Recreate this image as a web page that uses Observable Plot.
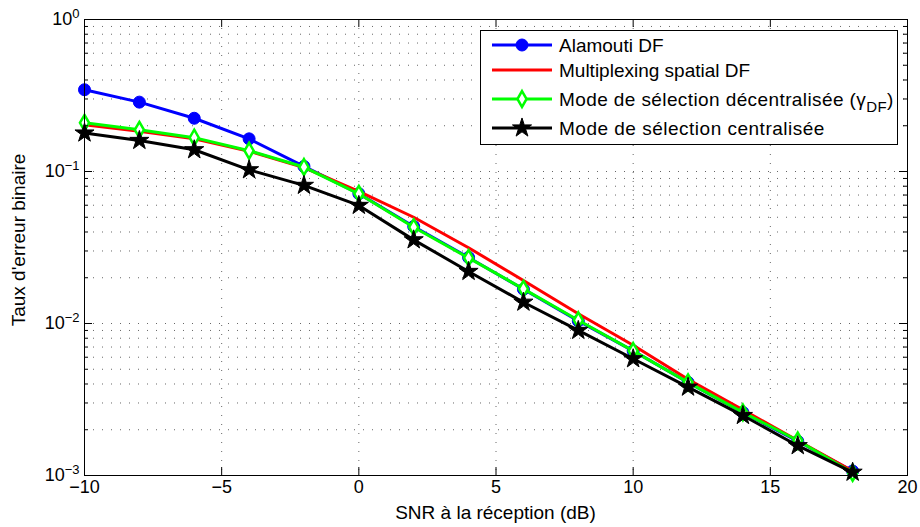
<!DOCTYPE html>
<html>
<head>
<meta charset="utf-8">
<script src="https://cdn.jsdelivr.net/npm/d3@7"></script>
<script src="https://cdn.jsdelivr.net/npm/@observablehq/plot@0.6"></script>
<style>
  body { margin: 0; background: #fff; }
  #chart svg { display: block; }
</style>
</head>
<body>
<div id="chart"></div>
<script>
// ---- Data ----
const snr = [-10, -8, -6, -4, -2, 0, 2, 4, 6, 8, 10, 12, 14, 16, 18];
const alamoutiDF   = [0.345, 0.286, 0.224, 0.164, 0.108, 0.0715, 0.0435, 0.0272, 0.0168, 0.0104, 0.0066, 0.0041, 0.0026, 0.00168, 0.00107];
const multiplexDF  = [0.203, 0.184, 0.164, 0.136, 0.106, 0.074, 0.050, 0.0315, 0.0192, 0.0116, 0.0072, 0.0043, 0.0027, 0.0017, 0.00107];
const decentralise = [0.209, 0.188, 0.167, 0.137, 0.107, 0.0713, 0.043, 0.027, 0.0169, 0.0105, 0.0066, 0.0041, 0.0026, 0.0017, 0.00104];
const centralise   = [0.179, 0.160, 0.139, 0.1026, 0.081, 0.0598, 0.0355, 0.022, 0.0138, 0.0090, 0.00586, 0.00381, 0.00248, 0.00157, 0.00105];

const seriesNames = ["Alamouti DF", "Multiplexing spatial DF", "Mode de sélection décentralisée (γDF)", "Mode de sélection centralisée"];

const xTicks = [-10, -5, 0, 5, 10, 15, 20];
const xGrid = [-5, 0, 5, 10, 15];
const yMajor = [0.001, 0.01, 0.1, 1];
const yMinor = [0.002, 0.003, 0.004, 0.005, 0.006, 0.007, 0.008, 0.009,
                0.02, 0.03, 0.04, 0.05, 0.06, 0.07, 0.08, 0.09,
                0.2, 0.3, 0.4, 0.5, 0.6, 0.7, 0.8, 0.9];
const yGrid = [0.01, 0.1].concat(yMinor);

// ---- Layout ----
const W = 920, H = 527, mL = 84, mR = 13, mT = 19, mB = 52;
const innerW = W - mL - mR, innerH = H - mT - mB;
const FONT = "'Liberation Sans', Arial, Helvetica, sans-serif";

const series = [
  {name: seriesNames[0], values: alamoutiDF,   color: "#0000ff", symbol: "circle",  r: 6,   fill: "#0000ff", sw: 1},
  {name: seriesNames[1], values: multiplexDF,  color: "#ff0000", symbol: null},
  {name: seriesNames[2], values: decentralise, color: "#00ff00", symbol: "diamond", r: 4.8, fill: "#ffffff", sw: 2.5},
  {name: seriesNames[3], values: centralise,   color: "#000000", symbol: "star",    r: 6,   fill: "#000000", sw: 1}
];
series.forEach(s => { s.data = snr.map((x, i) => ({x, y: s.values[i]})); });

const marks = [
  Plot.ruleX(xGrid, {x: d => d, stroke: "#000", strokeOpacity: 0.6, strokeDasharray: "1,8"}),
  Plot.ruleY(yGrid, {y: d => d, stroke: "#000", strokeOpacity: 0.6, strokeDasharray: "1,8"})
];
for (const s of series) {
  marks.push(Plot.line(s.data, {x: "x", y: "y", stroke: s.color, strokeWidth: 3}));
  if (s.symbol) {
    marks.push(Plot.dot(s.data, {x: "x", y: "y", symbol: s.symbol, r: s.r, fill: s.fill, stroke: s.color, strokeWidth: s.sw}));
  }
}
marks.push(
  Plot.frame({stroke: "#000", strokeWidth: 1}),
  // inward ticks: bottom / top
  Plot.tickX(xTicks, {x: d => d, insetTop: innerH - 8, stroke: "#000"}),
  Plot.tickX(xTicks, {x: d => d, insetBottom: innerH - 8, stroke: "#000"}),
  // inward ticks: left / right (major + minor)
  Plot.tickY(yMajor, {y: d => d, insetRight: innerW - 8, stroke: "#000"}),
  Plot.tickY(yMajor, {y: d => d, insetLeft: innerW - 8, stroke: "#000"}),
  Plot.tickY(yMinor, {y: d => d, insetRight: innerW - 4, stroke: "#000"}),
  Plot.tickY(yMinor, {y: d => d, insetLeft: innerW - 4, stroke: "#000"}),
  Plot.axisX({ticks: xTicks, tickSize: 0, tickPadding: 5, fontSize: 18, label: null}),
  Plot.axisY({ticks: yMajor, tickSize: 0, tickPadding: 5, fontSize: 18, label: null,
              tickFormat: d => "10^" + Math.round(Math.log10(d))})
);

const chart = Plot.plot({
  width: W, height: H,
  marginLeft: mL, marginRight: mR, marginTop: mT, marginBottom: mB,
  style: {fontFamily: FONT, background: "#fff", color: "#000"},
  x: {domain: [-10, 20]},
  y: {type: "log", domain: [0.001, 1]},
  marks
});

document.getElementById("chart").appendChild(chart);

// ---- Post-processing: superscript exponents on y tick labels ----
const svg = d3.select(chart);
svg.selectAll('g[aria-label="y-axis tick label"] text').each(function() {
  const t = d3.select(this);
  const txt = t.text();
  const parts = txt.split("^");
  if (parts.length === 2) {
    const e = parts[1].replace("-", "\u2212");
    t.text(null);
    t.append("tspan").text(parts[0]);
    t.append("tspan").attr("dy", "-0.55em").attr("font-size", 13).text(e);
  }
});

// ---- Axis titles ----
svg.append("text")
  .attr("x", (mL + W - mR) / 2).attr("y", 512).attr("dy", "0.35em")
  .attr("text-anchor", "middle").attr("font-size", 19).attr("font-family", FONT)
  .text("SNR à la réception (dB)");
svg.append("text")
  .attr("transform", "translate(18,240) rotate(-90)").attr("dy", "0.35em")
  .attr("text-anchor", "middle").attr("font-size", 19).attr("font-family", FONT)
  .text("Taux d'erreur binaire");

// ---- Legend ----
const lg = svg.append("g").attr("font-family", FONT).attr("font-size", 19).attr("text-anchor", "start");
lg.append("rect").attr("x", 480.5).attr("y", 30.5).attr("width", 417).attr("height", 114)
  .attr("fill", "#fff").attr("stroke", "#000");
const rowY = [45, 70, 99, 128];
const rowSpacing = [0, 0, 0.4, 0.5];
series.forEach((s, i) => {
  const y = rowY[i];
  lg.append("line").attr("x1", 492).attr("x2", 552).attr("y1", y).attr("y2", y)
    .attr("stroke", s.color).attr("stroke-width", 3);
  if (s.symbol) {
    const sym = {circle: d3.symbolCircle, diamond: d3.symbolDiamond, star: d3.symbolStar}[s.symbol];
    lg.append("path").attr("transform", `translate(522,${y})`)
      .attr("d", d3.symbol(sym, Math.PI * s.r * s.r)())
      .attr("fill", s.fill).attr("stroke", s.color).attr("stroke-width", s.sw);
  }
  const t = lg.append("text").attr("x", 559).attr("y", y).attr("dy", "0.35em")
    .attr("text-anchor", "start").attr("letter-spacing", rowSpacing[i]);
  if (i === 2) {
    t.append("tspan").text("Mode de sélection décentralisée (γ");
    t.append("tspan").attr("dy", 6).attr("font-size", 15).text("DF");
    t.append("tspan").attr("dy", -6).text(")");
  } else {
    t.text(s.name);
  }
});
</script>
</body>
</html>
